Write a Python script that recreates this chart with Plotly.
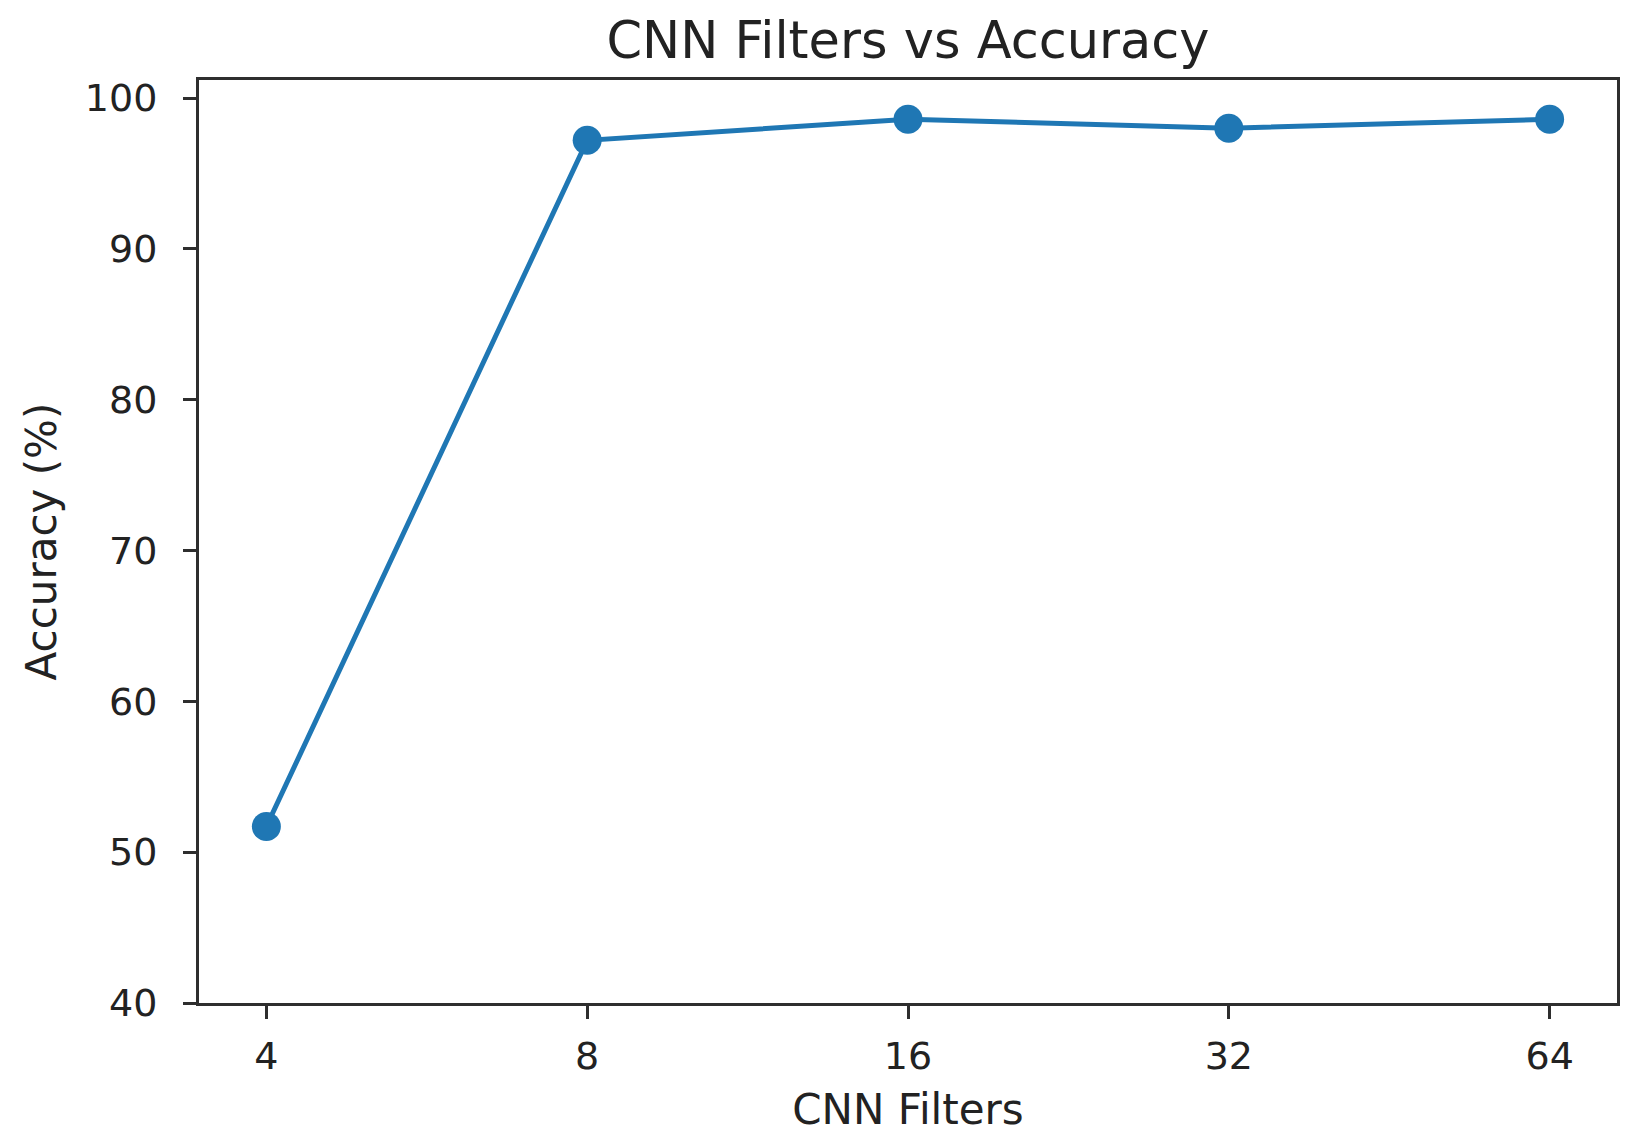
import plotly.graph_objs as go

# CNN filter counts and measured accuracy
filters = ['4', '8', '16', '32', '64']
accuracy = [51.7, 97.2, 98.6, 98.0, 98.6]
y_ticks = [40, 50, 60, 70, 80, 90, 100]

text_color = '#222222'
spine_color = '#2e2e2e'

fig = go.Figure()
fig.add_trace(go.Scatter(
    x=filters,
    y=accuracy,
    mode='lines+markers',
    line=dict(color='#1f77b4', width=5),
    marker=dict(color='#1f77b4', size=29),
    showlegend=False
))

# page body has an 8px margin, so the figure is 8px smaller and shifted
fig.update_layout(
    width=1628,
    height=1140,
    margin=dict(l=191, r=19, t=72, b=145),
    paper_bgcolor='white',
    plot_bgcolor='white',
    font=dict(family='DejaVu Sans', size=38, color=text_color),
    title=dict(
        text='CNN Filters vs Accuracy',
        x=(191 + 1609) / 2 / 1628,
        xanchor='center',
        y=1 - 32 / 1140,
        yanchor='middle',
        font=dict(size=51, color=text_color)
    ),
    xaxis=dict(
        type='category',
        range=[-0.21, 4.21],
        title=dict(text='CNN Filters', standoff=19, font=dict(size=42)),
        showline=True, mirror=True, linecolor=spine_color, linewidth=3,
        ticks='outside', ticklen=13, tickwidth=3, tickcolor=spine_color,
        ticklabelstandoff=4,
        showgrid=False, zeroline=False
    ),
    yaxis=dict(
        range=[40, 101.2],
        tickvals=y_ticks,
        title=dict(text='Accuracy (%)', standoff=16, font=dict(size=42)),
        showline=True, mirror=True, linecolor=spine_color, linewidth=3,
        ticks='outside', ticklen=13, tickwidth=3, tickcolor=spine_color,
        ticklabelstandoff=18,
        showgrid=False, zeroline=False
    )
)

fig.write_html("out.html")
